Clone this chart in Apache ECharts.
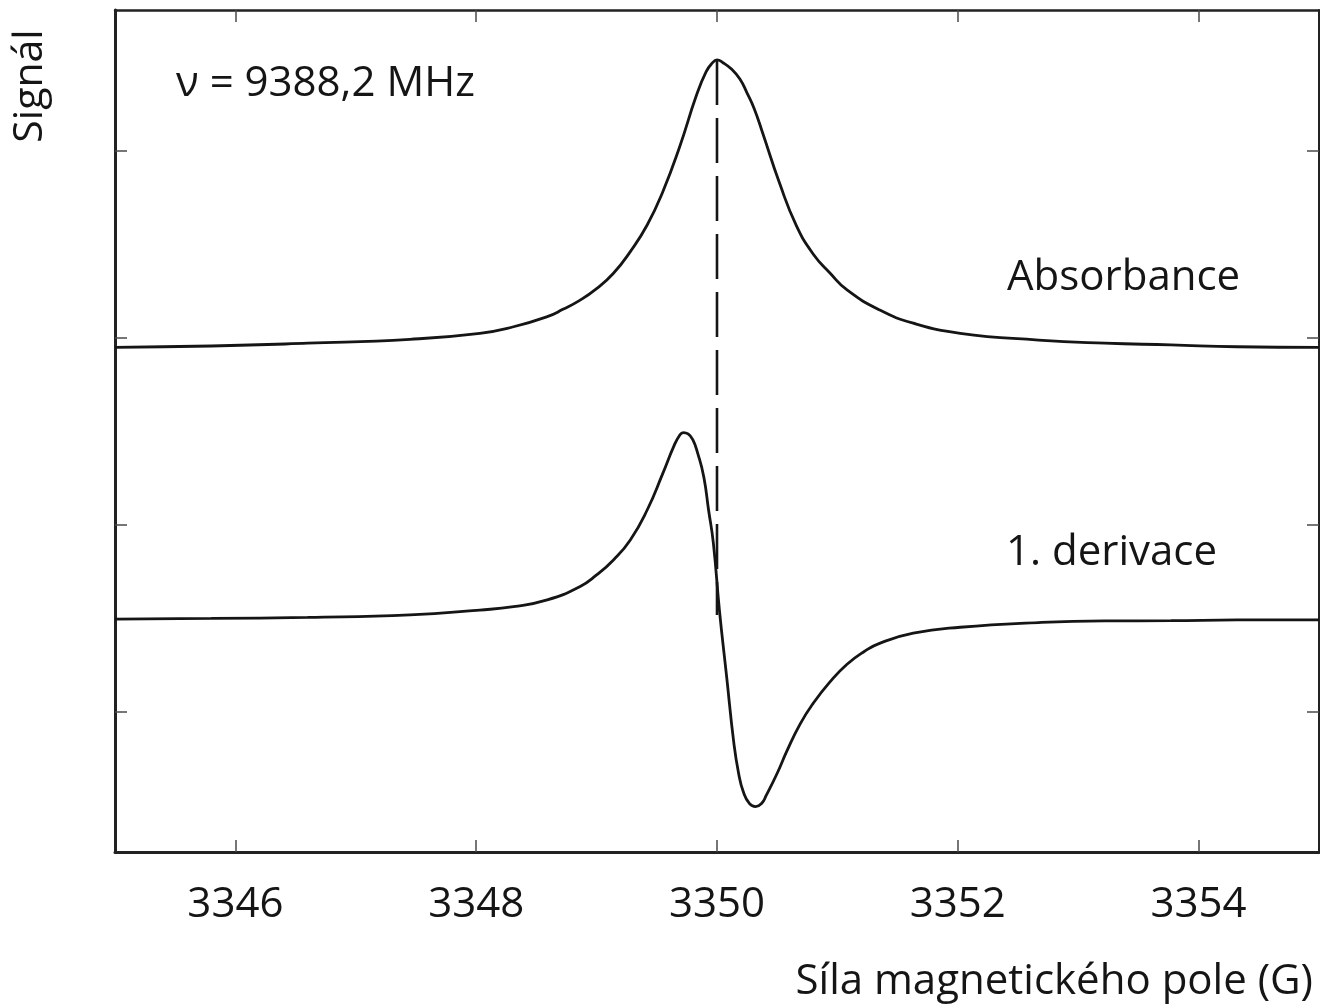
<!DOCTYPE html>
<html>
<head>
<meta charset="utf-8">
<script src="https://cdn.jsdelivr.net/npm/echarts@6/dist/echarts.min.js"></script>
<style>
html,body{margin:0;padding:0;background:#fff;}
#chart{width:1320px;height:1007px;}
</style>
</head>
<body>
<div id="chart"></div>
<script>
// ---- data ----
const xTicks = [3346, 3348, 3350, 3352, 3354];
const yTicks = [0, 1, 2, 3];

const absField = [3345.0, 3345.8, 3346.6, 3347.45, 3348.03, 3348.31, 3348.59, 3348.72, 3348.86, 3349.00, 3349.14, 3349.28, 3349.42, 3349.55, 3349.69, 3349.83, 3349.91, 3349.96, 3350.0, 3350.05, 3350.12, 3350.19, 3350.25, 3350.31, 3350.38, 3350.52, 3350.66, 3350.80, 3350.94, 3351.08, 3351.35, 3351.63, 3352.02, 3352.67, 3353.22, 3353.77, 3354.32, 3355.0];
const absSignal = [1.950, 1.957, 1.972, 1.993, 2.025, 2.060, 2.114, 2.153, 2.201, 2.264, 2.346, 2.462, 2.604, 2.782, 3.023, 3.299, 3.424, 3.470, 3.487, 3.472, 3.438, 3.385, 3.310, 3.225, 3.095, 2.827, 2.600, 2.448, 2.346, 2.257, 2.150, 2.079, 2.025, 1.989, 1.972, 1.963, 1.953, 1.950];

const derField = [3345.0, 3345.8, 3346.6, 3347.45, 3348.03, 3348.31, 3348.59, 3348.86, 3349.00, 3349.14, 3349.28, 3349.42, 3349.55, 3349.64, 3349.69, 3349.72, 3349.76, 3349.80, 3349.84, 3349.89, 3349.93, 3349.97, 3350.02, 3350.08, 3350.14, 3350.18, 3350.22, 3350.27, 3350.32, 3350.37, 3350.41, 3350.50, 3350.58, 3350.69, 3350.80, 3350.94, 3351.08, 3351.22, 3351.35, 3351.63, 3352.02, 3352.67, 3353.22, 3353.77, 3354.32, 3355.0];
const derSignal = [0.496, 0.500, 0.506, 0.519, 0.545, 0.563, 0.599, 0.670, 0.733, 0.813, 0.920, 1.080, 1.276, 1.419, 1.480, 1.494, 1.487, 1.455, 1.383, 1.258, 1.080, 0.902, 0.545, 0.189, -0.167, -0.330, -0.430, -0.490, -0.506, -0.490, -0.445, -0.328, -0.210, -0.065, 0.047, 0.162, 0.255, 0.322, 0.367, 0.421, 0.453, 0.478, 0.487, 0.488, 0.492, 0.492];

const peakField = [3350.0, 3350.0];
const peakSignal = [3.487, 0.519];

const yAxisTitle = 'Signál';
const xAxisTitle = 'Síla magnetického pole (G)';
const freqText = 'ν = 9388,2 MHz';
const absText = 'Absorbance';
const derText = '1. derivace';

// ---- chart ----
const FONT = "'Open Sans', 'Noto Sans', sans-serif";
const INK = '#151515';
const pairs = (xs, ys) => xs.map((x, i) => [x, ys[i]]);

const chart = echarts.init(document.getElementById('chart'), null, {renderer: 'canvas'});

const tickStyle = {show: true, inside: true, length: 12, lineStyle: {color: '#4a4a4a', width: 1.5}};

chart.setOption({
  animation: false,
  backgroundColor: '#ffffff',
  grid: {left: 115, right: 1, top: 10, bottom: 155, containLabel: false},
  xAxis: [
    {
      type: 'value', position: 'bottom', min: 3345, max: 3355,
      axisLine: {show: true, onZero: false, lineStyle: {color: '#222', width: 3}},
      axisTick: Object.assign({customValues: xTicks}, tickStyle),
      axisLabel: {show: true, customValues: xTicks, margin: 32, fontSize: 42, fontFamily: FONT, color: INK,
                  formatter: v => String(v)},
      splitLine: {show: false}
    },
    {
      type: 'value', position: 'top', min: 3345, max: 3355,
      axisLine: {show: true, onZero: false, lineStyle: {color: '#222', width: 2.5}},
      axisTick: Object.assign({customValues: xTicks}, tickStyle),
      axisLabel: {show: false},
      splitLine: {show: false}
    }
  ],
  yAxis: [
    {
      type: 'value', position: 'left', min: -0.749, max: 3.754,
      axisLine: {show: true, onZero: false, lineStyle: {color: '#222', width: 3}},
      axisTick: Object.assign({customValues: yTicks}, tickStyle),
      axisLabel: {show: false},
      splitLine: {show: false}
    },
    {
      type: 'value', position: 'right', min: -0.749, max: 3.754,
      axisLine: {show: true, onZero: false, lineStyle: {color: '#222', width: 2}},
      axisTick: Object.assign({customValues: yTicks}, tickStyle),
      axisLabel: {show: false},
      splitLine: {show: false}
    }
  ],
  series: [
    {
      name: absText, type: 'line', xAxisIndex: 0, yAxisIndex: 0,
      data: pairs(absField, absSignal),
      showSymbol: false, smooth: 0.5, clip: true,
      lineStyle: {color: INK, width: 2.8}
    },
    {
      name: derText, type: 'line', xAxisIndex: 0, yAxisIndex: 0,
      data: pairs(derField, derSignal),
      showSymbol: false, smooth: 0.5, clip: true,
      lineStyle: {color: INK, width: 2.8}
    },
    {
      name: 'peak', type: 'line', xAxisIndex: 0, yAxisIndex: 0,
      data: pairs(peakField, peakSignal),
      showSymbol: false, smooth: false,
      lineStyle: {color: INK, width: 2.6, type: [45, 13]}
    }
  ],
  graphic: [
    {type: 'text', x: 30, y: 86, rotation: Math.PI / 2,
     style: {text: yAxisTitle, fontSize: 41, fontFamily: FONT, fill: INK, textAlign: 'center', textVerticalAlign: 'middle'}},
    {type: 'text', x: 176, y: 84,
     style: {text: freqText, fontSize: 42, fontFamily: FONT, fill: INK, textAlign: 'left', textVerticalAlign: 'middle'}},
    {type: 'text', x: 1007, y: 278,
     style: {text: absText, fontSize: 42, fontFamily: FONT, fill: INK, textAlign: 'left', textVerticalAlign: 'middle'}},
    {type: 'text', x: 1006, y: 553,
     style: {text: derText, fontSize: 42, fontFamily: FONT, fill: INK, textAlign: 'left', textVerticalAlign: 'middle'}},
    {type: 'text', x: 1313, y: 982,
     style: {text: xAxisTitle, fontSize: 42, fontFamily: FONT, fill: INK, textAlign: 'right', textVerticalAlign: 'middle'}}
  ]
});
</script>
</body>
</html>
